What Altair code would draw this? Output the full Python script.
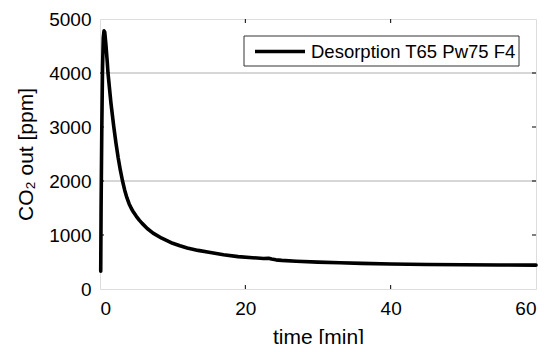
import altair as alt
import pandas as pd

time_min = [0.10, 0.15, 0.25, 0.35, 0.45, 0.55, 0.65, 0.80, 1.00, 1.10, 1.50, 1.90, 2.20,
            2.50, 2.80, 3.10, 3.40, 3.70, 4.00, 4.30, 4.60, 5.00, 5.40, 5.80, 6.50, 7.30,
            8.50, 10.0, 11.0, 12.0, 13.5, 15.0, 17.0, 19.0, 21.0, 22.5, 23.2, 23.6, 24.2,
            25.0, 27.0, 30.0, 33.0, 36.0, 40.0, 45.0, 50.0, 55.0, 60.0]
co2_ppm = [330, 1500, 3000, 4100, 4650, 4780, 4760, 4550, 4200, 4000, 3450, 3000, 2700,
           2430, 2200, 2000, 1830, 1690, 1580, 1495, 1425, 1345, 1275, 1215, 1120, 1035,
           940, 846, 800, 760, 715, 680, 635, 600, 580, 565, 570, 555, 540,
           530, 515, 497, 485, 475, 462, 453, 448, 445, 442]
series_name = "Desorption T65 Pw75 F4"

x_ticks = [20, 40]
y_ticks = [1000, 2000, 3000, 4000]
grid_vals = [2000, 4000]

FONT = "Liberation Sans"

df = pd.DataFrame({"t": time_min, "co2": co2_ppm})
xt = pd.DataFrame({"x": x_ticks})
yt = pd.DataFrame({"y": y_ticks})
gd = pd.DataFrame({"y": grid_vals})
lg = pd.DataFrame({"label": [series_name]})

xs = alt.Scale(domain=[0, 60], nice=False, zero=False)
ys = alt.Scale(domain=[0, 5000], nice=False)

W, H = 436, 270
TL = 4
LW = 3.6

grid = alt.Chart(gd).mark_rule(color="#9a9a9a", strokeWidth=0.8).encode(
    y=alt.Y("y:Q", scale=ys), x=alt.value(0), x2=alt.value(W))

xb = alt.Chart(xt).mark_rule(color="black", strokeWidth=1).encode(
    x=alt.X("x:Q", scale=xs), y=alt.value(H), y2=alt.value(H - TL))
xtp = alt.Chart(xt).mark_rule(color="black", strokeWidth=1).encode(
    x=alt.X("x:Q", scale=xs), y=alt.value(0), y2=alt.value(TL))
yl = alt.Chart(yt).mark_rule(color="black", strokeWidth=1).encode(
    y=alt.Y("y:Q", scale=ys), x=alt.value(0), x2=alt.value(TL))
yr = alt.Chart(yt).mark_rule(color="black", strokeWidth=1).encode(
    y=alt.Y("y:Q", scale=ys), x=alt.value(W), x2=alt.value(W - TL))

line = alt.Chart(df).mark_line(strokeWidth=LW, strokeJoin="round", strokeCap="round",
                               color="black").encode(
    x=alt.X("t:Q", scale=xs, title="time [min]",
            axis=alt.Axis(values=[0, 20, 40, 60], ticks=False, domain=False, grid=False,
                          format="d",
                          labelFontSize=19, labelPadding=10, titleFontSize=21,
                          titlePadding=8, labelFont=FONT, titleFont=FONT,
                          labelColor="black", titleColor="black", titleFontWeight="normal")),
    y=alt.Y("co2:Q", scale=ys, title="CO₂ out [ppm]",
            axis=alt.Axis(values=[0, 1000, 2000, 3000, 4000, 5000], ticks=False, domain=False,
                          format="d",
                          grid=False, labelFontSize=19, labelPadding=9, titleFontSize=21,
                          titlePadding=12, labelFont=FONT, titleFont=FONT,
                          labelColor="black", titleColor="black", titleFontWeight="normal")),
)

# legend box drawn by hand
lbox = alt.Chart(lg).mark_rect(fill="white", stroke="#333", strokeWidth=1).encode(
    x=alt.value(144), x2=alt.value(419), y=alt.value(17), y2=alt.value(47))
lsym = alt.Chart(lg).mark_rule(color="black", strokeWidth=LW).encode(
    x=alt.value(155), x2=alt.value(205), y=alt.value(32.5))
ltxt = alt.Chart(lg).mark_text(align="left", baseline="middle", font=FONT, fontSize=18.5,
                               color="black").encode(
    text="label:N", x=alt.value(211), y=alt.value(33))

chart = alt.layer(grid, xb, xtp, yl, yr, line, lbox, lsym, ltxt).properties(
    width=W, height=H,
    autosize=alt.AutoSizeParams(type="none"),
    padding={"left": 92, "top": 11, "right": 3, "bottom": 55},
).configure_view(stroke="black", strokeWidth=1.2).configure(background="white")

chart.save("out.html", embed_options={"renderer": "svg", "actions": False})
